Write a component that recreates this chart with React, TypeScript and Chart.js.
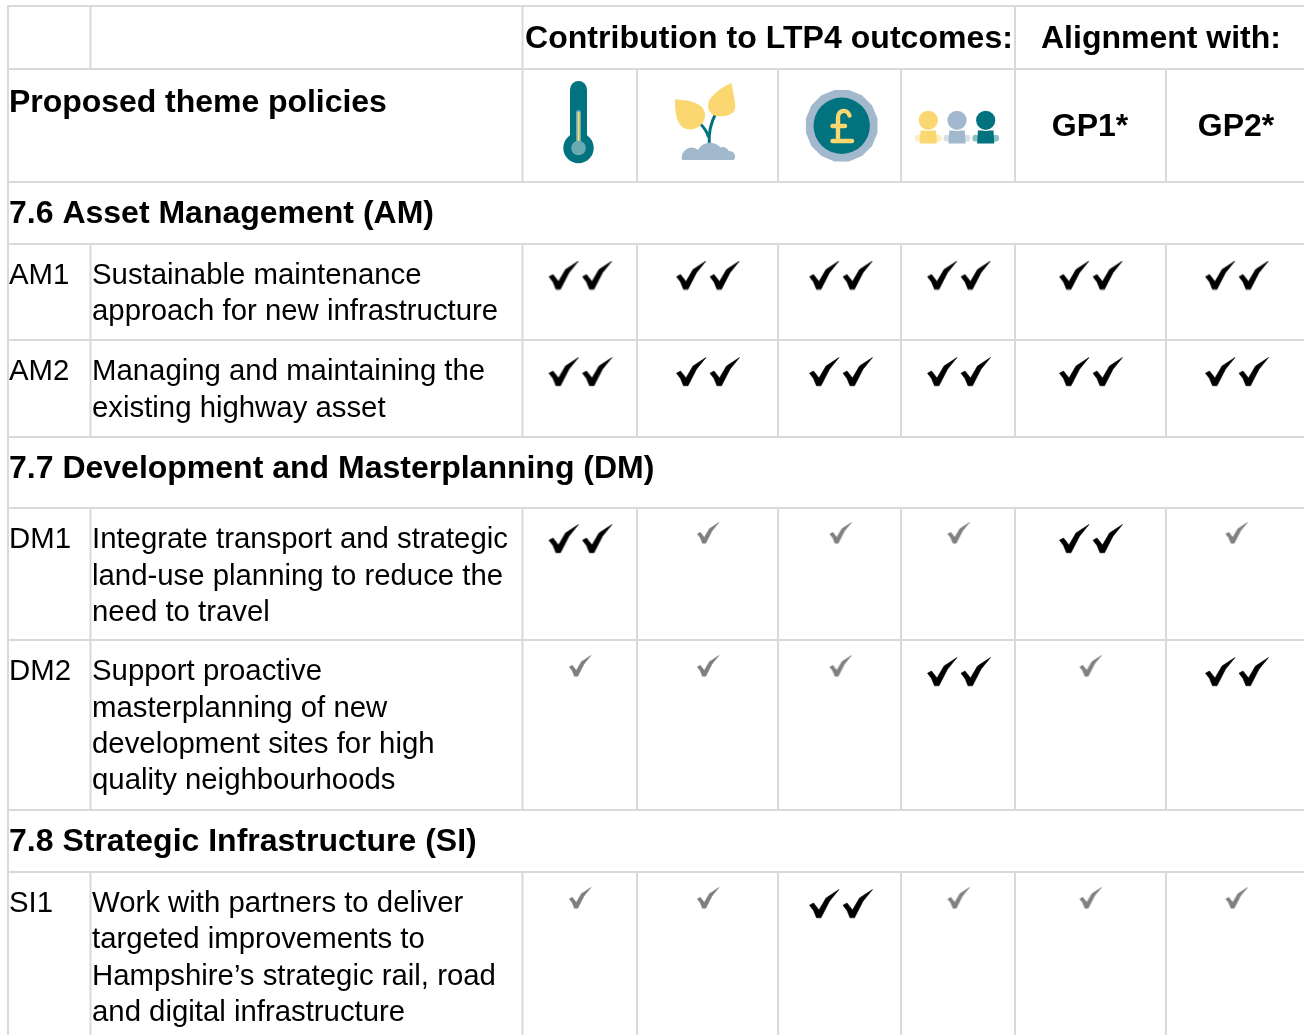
import React, { useEffect, useRef } from "react";
import { Chart, registerables } from "chart.js";

Chart.register(...registerables);

// ---------- content ----------
const codes = ["AM1", "AM2", "DM1", "DM2", "SI1"];
const policyLines = [
  ["Sustainable maintenance", "approach for new infrastructure"],
  ["Managing and maintaining the", "existing highway asset"],
  ["Integrate transport and strategic", "land-use planning to reduce the", "need to travel"],
  ["Support proactive", "masterplanning of new", "development sites for high", "quality neighbourhoods"],
  ["Work with partners to deliver", "targeted improvements to", "Hampshire\u2019s strategic rail, road", "and digital infrastructure"],
];
const sections = [
  "7.6 Asset Management (AM)",
  "7.7 Development and Masterplanning (DM)",
  "7.8 Strategic Infrastructure (SI)",
];
const headerLeft = "Proposed theme policies";
const headerContribution = "Contribution to LTP4 outcomes:";
const headerAlignment = "Alignment with:";
const goalLabels = ["GP1*", "GP2*"];

// rating of each policy per column: 2 = double tick, 1 = single tick
const am1 = [2, 2, 2, 2, 2, 2];
const am2 = [2, 2, 2, 2, 2, 2];
const dm1 = [2, 1, 1, 1, 2, 1];
const dm2 = [1, 1, 1, 2, 1, 2];
const si1 = [1, 1, 2, 1, 1, 1];
const ratings = [am1, am2, dm1, dm2, si1];

// ---------- layout (pixels of the table) ----------
const W = 1304;
const H = 1035;
const colCentres = [580.5, 708, 841, 959, 1091, 1237];
const singleCentres = [580, 708, 840.5, 958.5, 1090.5, 1236.5];
const rowTickY = [275.5, 372, 539, 672, 904];
const singleTickShift = -6;
const lineBaselines = [
  [284, 320],
  [380, 417],
  [548, 585, 621],
  [680, 717, 753, 789],
  [912, 948, 985, 1021],
];
const sectionBaselines = [223, 478, 851];
const GRID = "#d9d9d9";
const TEAL = "#00737f";
const YELLOW = "#fad771";
const BLUE = "#a2b8cc";
const hLines = [6, 69, 182, 244, 340, 437, 508, 640, 810, 872];
const vSegments: [number, number, number][] = [
  [8, 6, 1035],
  [90.5, 6, 69],
  [90.5, 244, 437],
  [90.5, 508, 810],
  [90.5, 872, 1035],
  [522.5, 6, 182],
  [522.5, 244, 437],
  [522.5, 508, 810],
  [522.5, 872, 1035],
  [637, 69, 182],
  [637, 244, 437],
  [637, 508, 810],
  [637, 872, 1035],
  [778, 69, 182],
  [778, 244, 437],
  [778, 508, 810],
  [778, 872, 1035],
  [901, 69, 182],
  [901, 244, 437],
  [901, 508, 810],
  [901, 872, 1035],
  [1015, 6, 182],
  [1015, 244, 437],
  [1015, 508, 810],
  [1015, 872, 1035],
  [1166, 69, 182],
  [1166, 244, 437],
  [1166, 508, 810],
  [1166, 872, 1035],
];

const FONT = '"Liberation Sans", Arial, sans-serif';
const tickShape = [
  [0.5, 15.7], [4.5, 13.5], [10, 20.5], [17, 8.5], [30, 0], [20.5, 11.7], [12, 28.3], [7.5, 28.3], [4.5, 21],
];

function tickSprite(count: number, scale: number, colour: string) {
  const c = document.createElement("canvas");
  const step = 33.5;
  c.width = count === 2 ? 66 : 24;
  c.height = count === 2 ? 30 : 22;
  const ctx = c.getContext("2d")!;
  ctx.fillStyle = colour;
  ctx.strokeStyle = colour;
  ctx.lineWidth = 0.6;
  ctx.lineJoin = "round";
  for (let i = 0; i < count; i++) {
    ctx.beginPath();
    tickShape.forEach(([x, y], k) => {
      const px = 1 + i * step + x * scale;
      const py = 0.5 + y * scale;
      if (k === 0) ctx.moveTo(px, py);
      else ctx.lineTo(px, py);
    });
    ctx.closePath();
    ctx.fill();
    ctx.stroke();
  }
  return c;
}

function circle(ctx: CanvasRenderingContext2D, x: number, y: number, r: number, fill: string) {
  ctx.fillStyle = fill;
  ctx.beginPath();
  ctx.arc(x, y, r, 0, Math.PI * 2);
  ctx.fill();
}

function drawThermometer(ctx: CanvasRenderingContext2D) {
  ctx.fillStyle = TEAL;
  ctx.beginPath();
  ctx.roundRect(570, 81, 17, 70, 8.5);
  ctx.fill();
  circle(ctx, 578.5, 148, 15.2, TEAL);
  circle(ctx, 578.5, 148, 7.3, "#6aabb2");
  ctx.fillStyle = "#6aabb2";
  ctx.beginPath();
  ctx.roundRect(576, 110, 5, 34, 2.5);
  ctx.fill();
  ctx.fillStyle = YELLOW;
  ctx.fillRect(577.6, 112, 1.9, 29);
}

function drawPlant(ctx: CanvasRenderingContext2D) {
  ctx.strokeStyle = TEAL;
  ctx.lineWidth = 3;
  ctx.lineCap = "butt";
  ctx.beginPath();
  ctx.moveTo(709.3, 144);
  ctx.quadraticCurveTo(708, 128, 716, 113);
  ctx.moveTo(708.5, 137);
  ctx.quadraticCurveTo(706, 129, 699.5, 123);
  ctx.stroke();
  ctx.fillStyle = YELLOW;
  ctx.beginPath();
  ctx.moveTo(675, 99.5);
  ctx.bezierCurveTo(688, 99.5, 705, 103, 705, 115);
  ctx.bezierCurveTo(705, 124, 697, 129.5, 690, 129.5);
  ctx.bezierCurveTo(679, 129.5, 674.5, 118, 675, 99.5);
  ctx.fill();
  ctx.beginPath();
  ctx.moveTo(731.5, 83);
  ctx.bezierCurveTo(733, 92, 736, 103, 735, 109);
  ctx.bezierCurveTo(733, 116, 722, 117, 716, 116);
  ctx.bezierCurveTo(708, 114, 706, 105, 710, 99);
  ctx.bezierCurveTo(715, 92, 724, 86, 731.5, 83);
  ctx.fill();
  ctx.save();
  ctx.beginPath();
  ctx.rect(680, 130, 57, 30);
  ctx.clip();
  circle(ctx, 691.7, 157.5, 10, BLUE);
  ctx.fillStyle = BLUE;
  ctx.beginPath();
  ctx.ellipse(710, 155, 13, 12.3, 0, 0, Math.PI * 2);
  ctx.fill();
  circle(ctx, 722.7, 153.5, 6.5, BLUE);
  circle(ctx, 729.7, 156.5, 5.4, BLUE);
  ctx.fillRect(690, 154, 40, 6);
  ctx.restore();
}

function drawCoin(ctx: CanvasRenderingContext2D) {
  const cx = 841.7, cy = 125.7;
  ctx.fillStyle = BLUE;
  ctx.beginPath();
  for (let i = 0; i < 16; i++) {
    const a = (i + 0.5) * (Math.PI / 8);
    const x = cx + 36.5 * Math.cos(a), y = cy + 36.5 * Math.sin(a);
    if (i === 0) ctx.moveTo(x, y);
    else ctx.lineTo(x, y);
  }
  ctx.closePath();
  ctx.fill();
  circle(ctx, cx, cy, 28.2, TEAL);
  ctx.strokeStyle = YELLOW;
  ctx.lineWidth = 4.4;
  ctx.lineCap = "round";
  ctx.lineJoin = "round";
  ctx.beginPath();
  ctx.moveTo(849.5, 115.5);
  ctx.bezierCurveTo(848, 109.5, 838, 108.5, 838, 118);
  ctx.lineTo(838, 141);
  ctx.moveTo(832.5, 141);
  ctx.lineTo(852, 141);
  ctx.moveTo(832.5, 126);
  ctx.lineTo(845, 126);
  ctx.stroke();
}

function drawPerson(ctx: CanvasRenderingContext2D, x: number, colour: string) {
  ctx.globalAlpha = 0.45;
  circle(ctx, x - 10, 138.2, 3.4, colour);
  circle(ctx, x + 10, 138.2, 3.4, colour);
  ctx.globalAlpha = 1;
  ctx.fillStyle = colour;
  ctx.beginPath();
  ctx.moveTo(x - 7.8, 130.5);
  ctx.lineTo(x + 7.8, 130.5);
  ctx.lineTo(x + 8.6, 143.5);
  ctx.lineTo(x - 8.6, 143.5);
  ctx.closePath();
  ctx.fill();
  circle(ctx, x, 120.3, 10.6, "#ffffff");
  circle(ctx, x, 120.3, 9.6, colour);
}

const tablePlugin = {
  id: "tableParts",
  beforeDatasetsDraw(chart: any) {
    const ctx: any = chart.ctx;
    const sx = chart.scales.x;
    const sy = chart.scales.y;
    ctx.save();
    ctx.fillStyle = "#ffffff";
    ctx.fillRect(0, 0, W, H);
    ctx.strokeStyle = GRID;
    ctx.lineWidth = 2;
    ctx.beginPath();
    hLines.forEach((y) => {
      ctx.moveTo(sx.getPixelForValue(7), sy.getPixelForValue(y));
      ctx.lineTo(sx.getPixelForValue(W), sy.getPixelForValue(y));
    });
    vSegments.forEach(([x, a, b]) => {
      ctx.moveTo(sx.getPixelForValue(x), sy.getPixelForValue(a));
      ctx.lineTo(sx.getPixelForValue(x), sy.getPixelForValue(b));
    });
    ctx.stroke();

    drawThermometer(ctx);
    drawPlant(ctx);
    drawCoin(ctx);
    drawPerson(ctx, 928.3, YELLOW);
    drawPerson(ctx, 957, BLUE);
    drawPerson(ctx, 985.7, TEAL);

    ctx.fillStyle = "#000000";
    ctx.textBaseline = "alphabetic";
    ctx.textAlign = "left";
    ctx.font = `bold 32px ${FONT}`;
    ctx.letterSpacing = "-0.04px";
    ctx.fillText(headerLeft, 9, 112);
    ctx.letterSpacing = "0px";
    sections.forEach((s, i) => ctx.fillText(s, 9, sectionBaselines[i]));
    ctx.letterSpacing = "0.05px";
    ctx.fillText(headerContribution, 525, 48);
    ctx.letterSpacing = "0px";
    ctx.fillText(headerAlignment, 1041, 48);
    ctx.textAlign = "center";
    ctx.fillText(goalLabels[0], 1090, 136);
    ctx.fillText(goalLabels[1], 1236, 136);
    ctx.textAlign = "left";
    ctx.font = `29.35px ${FONT}`;
    codes.forEach((code, i) => {
      ctx.fillText(code, 9, lineBaselines[i][0]);
      policyLines[i].forEach((line, k) => ctx.fillText(line, 92, lineBaselines[i][k]));
    });
    ctx.restore();
  },
};

function pointsFor(level: number) {
  const pts: { x: number; y: number }[] = [];
  ratings.forEach((row, r) =>
    row.forEach((v, c) => {
      if (v === level)
        pts.push({
          x: level === 1 ? singleCentres[c] : colCentres[c],
          y: rowTickY[r] + (level === 1 ? singleTickShift : 0),
        });
    })
  );
  return pts;
}

export default function App() {
  const ref = useRef<HTMLCanvasElement>(null);
  useEffect(() => {
    document.body.style.margin = "0";
    const chart = new Chart(ref.current!, {
      type: "scatter",
      data: {
        datasets: [
          { label: "Strong", data: pointsFor(2), pointStyle: tickSprite(2, 1, "#000000") as any, pointRadius: 15 },
          { label: "Some", data: pointsFor(1), pointStyle: tickSprite(1, 0.73, "#808080") as any, pointRadius: 11 },
        ],
      },
      options: {
        responsive: false,
        animation: false,
        layout: { padding: 0, autoPadding: false },
        plugins: { legend: { display: false }, tooltip: { enabled: false }, title: { display: false } },
        scales: {
          x: { type: "linear", min: 0, max: W, display: false },
          y: { type: "linear", min: 0, max: H, reverse: true, display: false },
        },
      },
      plugins: [tablePlugin as any],
    });
    return () => chart.destroy();
  }, []);
  return (
    <div style={{ position: "absolute", left: 0, top: 0, width: W, height: H, overflow: "hidden" }}>
      <canvas ref={ref} width={W} height={H} style={{ display: "block", width: W, height: H }} />
    </div>
  );
}
